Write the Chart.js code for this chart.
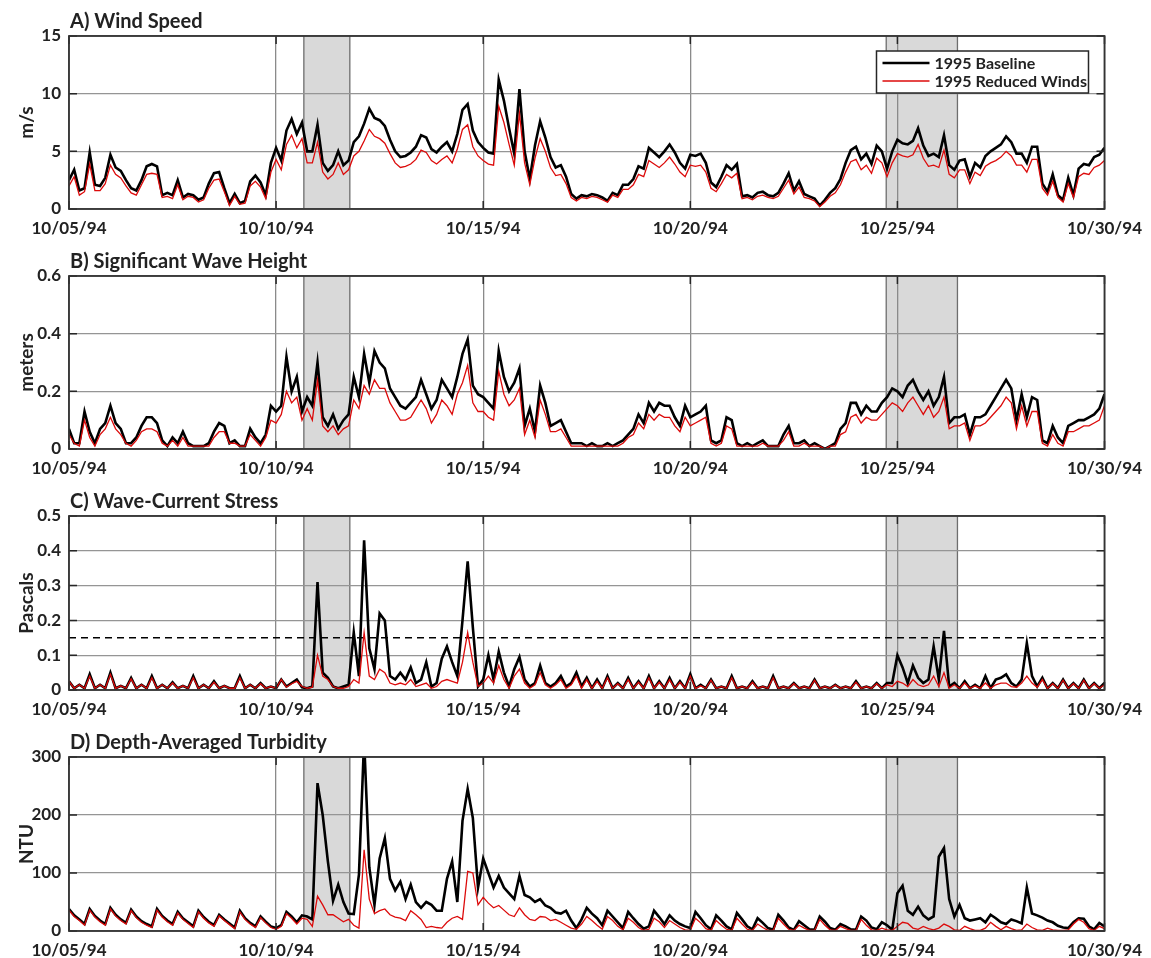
<!DOCTYPE html>
<html>
<head>
<meta charset="utf-8">
<title>1995 Baseline vs Reduced Winds</title>
<script src="https://cdn.jsdelivr.net/npm/chart.js@4.4.1/dist/chart.umd.min.js"></script>
<style>
  html, body { margin: 0; padding: 0; background: #fff; overflow: hidden; }
  canvas { position: absolute; left: 0; }
</style>
</head>
<body>
<canvas id="windChart" width="1151" height="240" style="top:0px"></canvas>
<canvas id="waveChart" width="1151" height="240" style="top:240px"></canvas>
<canvas id="stressChart" width="1151" height="240" style="top:480px"></canvas>
<canvas id="turbChart" width="1151" height="240" style="top:721px"></canvas>
<script>
// time axis: days since 10/05/94, one sample every 3 hours
const stepDays = 0.125;
const tickDays = [0, 5, 10, 15, 20, 25];
const dateLabels = ['10/05/94', '10/10/94', '10/15/94', '10/20/94', '10/25/94', '10/30/94'];
const shadedSpans = [[5.67, 6.78], [19.73, 21.45]];
const stressThreshold = 0.15;

// A) wind speed, m/s
const windBaseline = [
  2.5, 3.4, 1.6, 1.8, 4.9, 2.1, 2.0, 2.7,
  4.7, 3.6, 3.3, 2.5, 1.8, 1.6, 2.5, 3.7,
  3.9, 3.7, 1.2, 1.4, 1.2, 2.5, 1.0, 1.3,
  1.2, 0.8, 1.0, 2.2, 3.1, 3.2, 1.8, 0.5,
  1.3, 0.5, 0.7, 2.4, 2.9, 2.3, 1.2, 4.0,
  5.3, 4.2, 6.8, 7.8, 6.5, 7.5, 5.0, 5.0,
  7.3, 4.0, 3.3, 3.8, 5.0, 3.8, 4.2, 5.8,
  6.3, 7.4, 8.7, 7.9, 7.7, 7.2, 6.0, 5.0,
  4.5, 4.6, 4.9, 5.4, 6.4, 6.2, 5.2, 4.9,
  5.4, 5.8, 5.0, 6.5, 8.6, 9.1, 6.8, 5.8,
  5.3, 4.9, 4.8, 11.2, 9.4, 7.0, 4.8, 10.4,
  5.0, 2.6, 5.5, 7.6, 6.2, 4.5, 3.6, 3.8,
  2.8, 1.3, 0.9, 1.2, 1.1, 1.3, 1.2, 1.0,
  0.7, 1.4, 1.2, 2.1, 2.1, 2.6, 3.7, 3.5,
  5.3, 4.9, 4.5, 5.0, 5.6, 4.9, 4.0, 3.5,
  4.7, 4.6, 4.8, 4.0, 2.3, 1.9, 2.8, 3.8,
  3.4, 3.9, 1.1, 1.2, 1.0, 1.4, 1.5, 1.2,
  1.1, 1.4, 2.2, 3.1, 1.6, 2.4, 1.3, 1.1,
  0.9, 0.3, 0.8, 1.4, 1.8, 2.6, 4.0, 5.1,
  5.4, 4.3, 4.8, 3.9, 5.5, 5.0, 3.5, 5.0,
  6.0, 5.7, 5.6, 5.9, 7.0, 5.5, 4.6, 4.8,
  4.5, 6.4, 3.8, 3.4, 4.2, 4.3, 2.8, 4.0,
  3.6, 4.6, 5.0, 5.3, 5.6, 6.3, 5.8, 4.8,
  4.8, 4.0, 5.4, 5.4, 2.2, 1.5, 3.0, 1.2,
  0.8, 2.7, 1.2, 3.5, 3.9, 3.8, 4.5, 4.7,
  5.3
];
const windReduced = [
  2.0, 2.8, 1.2, 1.5, 3.9, 1.6, 1.6, 2.2,
  3.8, 3.0, 2.7, 2.0, 1.4, 1.2, 2.1, 3.0,
  3.1, 3.0, 1.0, 1.1, 0.9, 2.1, 0.8, 1.1,
  1.0, 0.6, 0.8, 1.8, 2.5, 2.6, 1.5, 0.3,
  1.1, 0.4, 0.5, 2.0, 2.4, 1.9, 0.9, 3.2,
  4.3, 3.4, 5.6, 6.4, 5.3, 6.1, 4.0, 4.0,
  5.8, 3.2, 2.6, 3.0, 4.0, 3.0, 3.4, 4.6,
  5.0, 5.9, 6.9, 6.3, 6.1, 5.7, 4.8, 4.0,
  3.6, 3.7, 3.9, 4.3, 5.1, 4.9, 4.2, 3.9,
  4.3, 4.6, 4.0, 5.2, 6.9, 7.3, 5.4, 4.6,
  4.2, 3.9, 3.8, 8.9, 7.5, 5.6, 3.8, 8.3,
  4.0, 2.1, 4.4, 6.1, 5.0, 3.6, 2.9, 3.0,
  2.2, 1.0, 0.7, 1.0, 0.9, 1.1, 1.0, 0.8,
  0.6, 1.2, 1.0, 1.7, 1.7, 2.1, 3.0, 2.8,
  4.2, 3.9, 3.6, 4.0, 4.5, 3.9, 3.2, 2.8,
  3.8, 3.7, 3.8, 3.2, 1.8, 1.5, 2.2, 3.0,
  2.7, 3.1, 0.9, 1.0, 0.8, 1.1, 1.2, 1.0,
  0.9, 1.1, 1.8, 2.5, 1.3, 1.9, 1.0, 0.9,
  0.7, 0.2, 0.6, 1.1, 1.4, 2.1, 3.2, 4.1,
  4.3, 3.4, 3.8, 3.1, 4.4, 4.0, 2.8, 4.0,
  4.8, 4.6, 4.5, 4.7, 5.6, 4.4, 3.7, 3.8,
  3.6, 5.1, 3.0, 2.7, 3.4, 3.4, 2.2, 3.2,
  2.9, 3.7, 4.0, 4.2, 4.5, 5.0, 4.6, 3.8,
  3.8, 3.2, 4.3, 4.3, 1.8, 1.2, 2.4, 1.0,
  0.6, 2.2, 1.0, 2.8, 3.1, 3.0, 3.6, 3.8,
  4.2
];

// B) significant wave height, meters
const waveBaseline = [
  0.07, 0.02, 0.02, 0.13, 0.06, 0.02, 0.07, 0.09,
  0.15, 0.09, 0.07, 0.02, 0.02, 0.04, 0.08, 0.11,
  0.11, 0.09, 0.03, 0.01, 0.04, 0.02, 0.06, 0.02,
  0.01, 0.01, 0.01, 0.02, 0.06, 0.09, 0.08, 0.02,
  0.03, 0.01, 0.01, 0.07, 0.04, 0.02, 0.05, 0.15,
  0.13, 0.15, 0.32, 0.20, 0.25, 0.13, 0.18, 0.15,
  0.30, 0.11, 0.08, 0.12, 0.07, 0.10, 0.12, 0.25,
  0.18, 0.33, 0.23, 0.34, 0.30, 0.28, 0.21, 0.18,
  0.15, 0.14, 0.16, 0.18, 0.24, 0.19, 0.14, 0.17,
  0.24, 0.21, 0.18, 0.25, 0.33, 0.38, 0.22, 0.19,
  0.18, 0.16, 0.14, 0.34, 0.25, 0.20, 0.23, 0.28,
  0.08, 0.14, 0.06, 0.22, 0.16, 0.08, 0.09, 0.10,
  0.06, 0.02, 0.02, 0.02, 0.01, 0.02, 0.01, 0.01,
  0.02, 0.01, 0.02, 0.03, 0.05, 0.07, 0.12, 0.09,
  0.16, 0.13, 0.16, 0.15, 0.15, 0.11, 0.08, 0.15,
  0.11, 0.12, 0.13, 0.15, 0.03, 0.02, 0.03, 0.11,
  0.10, 0.02, 0.01, 0.02, 0.01, 0.02, 0.03, 0.01,
  0.01, 0.01, 0.05, 0.08, 0.02, 0.02, 0.03, 0.01,
  0.02, 0.01, 0.00, 0.01, 0.02, 0.07, 0.09, 0.16,
  0.16, 0.12, 0.15, 0.13, 0.13, 0.16, 0.18, 0.21,
  0.20, 0.18, 0.22, 0.24, 0.20, 0.17, 0.20, 0.15,
  0.18, 0.25, 0.09, 0.11, 0.11, 0.12, 0.05, 0.11,
  0.11, 0.12, 0.15, 0.18, 0.21, 0.24, 0.21, 0.10,
  0.19, 0.11, 0.18, 0.17, 0.03, 0.02, 0.08, 0.04,
  0.02, 0.08, 0.09, 0.10, 0.10, 0.11, 0.12, 0.14,
  0.19
];
const waveReduced = [
  0.05, 0.02, 0.01, 0.10, 0.04, 0.01, 0.05, 0.07,
  0.11, 0.07, 0.05, 0.02, 0.01, 0.03, 0.06, 0.07,
  0.07, 0.06, 0.02, 0.01, 0.03, 0.01, 0.04, 0.01,
  0.01, 0.01, 0.01, 0.01, 0.04, 0.06, 0.06, 0.02,
  0.02, 0.01, 0.01, 0.05, 0.03, 0.01, 0.04, 0.10,
  0.09, 0.12, 0.20, 0.16, 0.18, 0.10, 0.14, 0.10,
  0.24, 0.08, 0.06, 0.08, 0.05, 0.07, 0.08, 0.17,
  0.14, 0.22, 0.19, 0.24, 0.21, 0.21, 0.16, 0.13,
  0.10, 0.10, 0.11, 0.14, 0.17, 0.14, 0.09, 0.12,
  0.17, 0.15, 0.12, 0.19, 0.23, 0.29, 0.16, 0.13,
  0.13, 0.11, 0.10, 0.27, 0.19, 0.15, 0.17, 0.21,
  0.05, 0.10, 0.04, 0.17, 0.12, 0.06, 0.06, 0.07,
  0.04, 0.01, 0.01, 0.01, 0.01, 0.01, 0.01, 0.01,
  0.01, 0.01, 0.01, 0.02, 0.04, 0.05, 0.09, 0.07,
  0.12, 0.10, 0.12, 0.11, 0.11, 0.08, 0.06, 0.11,
  0.08, 0.09, 0.10, 0.11, 0.02, 0.01, 0.02, 0.08,
  0.07, 0.01, 0.01, 0.01, 0.01, 0.01, 0.02, 0.01,
  0.01, 0.01, 0.03, 0.06, 0.01, 0.01, 0.02, 0.01,
  0.01, 0.01, 0.00, 0.01, 0.01, 0.05, 0.06, 0.11,
  0.12, 0.09, 0.11, 0.10, 0.10, 0.12, 0.14, 0.16,
  0.15, 0.13, 0.16, 0.18, 0.15, 0.12, 0.15, 0.11,
  0.13, 0.18, 0.07, 0.08, 0.08, 0.09, 0.03, 0.08,
  0.08, 0.09, 0.11, 0.13, 0.15, 0.18, 0.16, 0.07,
  0.15, 0.08, 0.13, 0.13, 0.02, 0.01, 0.05, 0.02,
  0.01, 0.06, 0.06, 0.07, 0.08, 0.08, 0.09, 0.10,
  0.15
];

// C) wave-current bottom stress, Pascals
const stressBaseline = [
  0.025, 0.005, 0.015, 0.005, 0.045, 0.005, 0.015, 0.005,
  0.05, 0.005, 0.012, 0.005, 0.035, 0.005, 0.015, 0.005,
  0.04, 0.005, 0.015, 0.005, 0.022, 0.005, 0.012, 0.005,
  0.04, 0.005, 0.015, 0.005, 0.025, 0.005, 0.012, 0.005,
  0.005, 0.04, 0.005, 0.015, 0.005, 0.02, 0.005, 0.01,
  0.005, 0.03, 0.01, 0.02, 0.03, 0.008, 0.005, 0.01,
  0.31, 0.05, 0.035, 0.01, 0.005, 0.01, 0.015, 0.165,
  0.04, 0.43, 0.12, 0.06, 0.22, 0.2, 0.04, 0.03,
  0.05, 0.03, 0.065, 0.02, 0.03, 0.08, 0.01, 0.02,
  0.09, 0.125, 0.08, 0.04, 0.2, 0.37, 0.18, 0.01,
  0.03, 0.10, 0.03, 0.11, 0.05, 0.01, 0.06, 0.095,
  0.03, 0.01, 0.02, 0.07, 0.02, 0.01, 0.02, 0.04,
  0.01, 0.02, 0.05, 0.01, 0.035, 0.005, 0.03, 0.005,
  0.04, 0.005, 0.02, 0.005, 0.035, 0.005, 0.025, 0.005,
  0.04, 0.005, 0.025, 0.005, 0.035, 0.005, 0.025, 0.005,
  0.045, 0.005, 0.015, 0.005, 0.03, 0.005, 0.01, 0.005,
  0.04, 0.005, 0.01, 0.005, 0.025, 0.005, 0.01, 0.005,
  0.04, 0.005, 0.01, 0.005, 0.02, 0.005, 0.01, 0.005,
  0.03, 0.005, 0.01, 0.005, 0.015, 0.005, 0.01, 0.005,
  0.025, 0.005, 0.01, 0.005, 0.02, 0.005, 0.02, 0.02,
  0.10, 0.065, 0.02, 0.07, 0.035, 0.02, 0.03, 0.125,
  0.03, 0.17, 0.01, 0.02, 0.005, 0.025, 0.005, 0.015,
  0.005, 0.04, 0.005, 0.03, 0.035, 0.045, 0.02, 0.01,
  0.03, 0.135, 0.04, 0.01, 0.035, 0.005, 0.02, 0.005,
  0.03, 0.005, 0.02, 0.005, 0.03, 0.005, 0.02, 0.005,
  0.02
];
const stressReduced = [
  0.025, 0.005, 0.015, 0.005, 0.04, 0.005, 0.015, 0.005,
  0.045, 0.005, 0.012, 0.005, 0.032, 0.005, 0.015, 0.005,
  0.035, 0.005, 0.015, 0.005, 0.02, 0.005, 0.012, 0.005,
  0.035, 0.005, 0.015, 0.005, 0.022, 0.005, 0.012, 0.005,
  0.005, 0.035, 0.005, 0.015, 0.005, 0.018, 0.005, 0.01,
  0.005, 0.03, 0.008, 0.018, 0.025, 0.01, 0.005, 0.008,
  0.10, 0.04, 0.03, 0.01, 0.005, 0.005, 0.01, 0.03,
  0.02, 0.165, 0.04, 0.03, 0.06, 0.05, 0.02, 0.015,
  0.02, 0.015, 0.03, 0.01, 0.015, 0.02, 0.005, 0.01,
  0.025, 0.03, 0.025, 0.02, 0.08, 0.165, 0.08, 0.01,
  0.02, 0.04, 0.02, 0.07, 0.03, 0.005, 0.04, 0.06,
  0.02, 0.005, 0.015, 0.05, 0.015, 0.005, 0.015, 0.03,
  0.005, 0.015, 0.04, 0.005, 0.03, 0.005, 0.025, 0.005,
  0.035, 0.005, 0.018, 0.005, 0.03, 0.005, 0.022, 0.005,
  0.035, 0.005, 0.022, 0.005, 0.03, 0.005, 0.022, 0.005,
  0.04, 0.005, 0.012, 0.005, 0.028, 0.005, 0.01, 0.005,
  0.035, 0.005, 0.01, 0.005, 0.022, 0.005, 0.01, 0.005,
  0.035, 0.005, 0.01, 0.005, 0.018, 0.005, 0.01, 0.005,
  0.028, 0.005, 0.01, 0.005, 0.014, 0.005, 0.01, 0.005,
  0.022, 0.005, 0.01, 0.005, 0.018, 0.005, 0.015, 0.01,
  0.025, 0.02, 0.01, 0.03, 0.015, 0.01, 0.015, 0.04,
  0.01, 0.05, 0.005, 0.015, 0.005, 0.02, 0.005, 0.012,
  0.005, 0.02, 0.005, 0.015, 0.02, 0.02, 0.01, 0.008,
  0.02, 0.04, 0.02, 0.008, 0.03, 0.005, 0.018, 0.005,
  0.028, 0.005, 0.018, 0.005, 0.028, 0.005, 0.018, 0.005,
  0.015
];

// D) depth-averaged turbidity, NTU
const turbBaseline = [
  38, 27, 20, 12, 38, 26, 18, 12,
  40, 28, 20, 14, 37, 25, 17, 12,
  8, 38, 26, 18, 12, 33, 22, 15,
  8, 35, 24, 16, 10, 28, 20, 13,
  6, 35, 22, 14, 8, 25, 16, 8,
  5, 10, 33, 25, 15, 27, 25, 20,
  255, 200, 120, 52, 80, 50, 30, 29,
  97, 330, 110, 45, 125, 160, 90, 70,
  85, 55, 80, 50, 40, 50, 45, 35,
  35, 90, 120, 50, 190, 245, 195, 75,
  125, 100, 75, 95, 75, 65, 55, 95,
  62, 58, 50, 55, 44, 40, 32, 30,
  35, 18, 5, 20, 40, 30, 22, 10,
  35, 25, 15, 5, 33, 22, 12, 4,
  8, 35, 24, 12, 27, 18, 12, 8,
  5, 33, 22, 10, 3, 27, 18, 8,
  3, 31, 20, 8, 3, 22, 14, 5,
  2, 28, 18, 6, 2, 17, 10, 3,
  2, 25, 16, 5, 2, 12, 8, 3,
  2, 25, 18, 6, 3, 15, 10, 2,
  65, 78, 35, 28, 42, 27, 20, 25,
  128, 143, 55, 25, 45, 22, 18, 20,
  22, 15, 28, 22, 15, 12, 20, 17,
  13, 75, 30, 27, 23, 18, 15, 9,
  6, 5, 15, 22, 21, 8, 3, 14,
  8
];
const turbReduced = [
  36, 25, 18, 10, 36, 24, 16, 10,
  38, 26, 18, 12, 35, 23, 15, 10,
  6, 36, 24, 16, 10, 31, 20, 13,
  6, 33, 22, 14, 8, 26, 18, 11,
  4, 33, 20, 12, 6, 23, 14, 6,
  3, 8, 30, 22, 12, 22, 20, 8,
  60, 45, 28, 28, 22, 16, 20, 10,
  5, 140, 55, 30, 35, 38, 28, 24,
  22, 18, 35, 28, 20, 6, 8, 6,
  5, 15, 22, 25, 20, 103, 100, 45,
  58, 48, 40, 44, 36, 28, 25, 40,
  28, 20, 18, 25, 24, 18, 20, 15,
  10, 5, 3, 12, 25, 18, 10, 3,
  25, 18, 8, 2, 22, 15, 6, 1,
  3, 22, 16, 6, 18, 12, 6, 2,
  1, 22, 14, 4, 1, 18, 10, 3,
  1, 22, 12, 3, 1, 12, 6, 1,
  1, 22, 12, 3, 1, 10, 5, 1,
  1, 20, 10, 2, 1, 8, 4, 1,
  1, 20, 10, 2, 1, 5, 2, 1,
  8, 15, 13, 5, 3, 8, 4, 2,
  5, 12, 8, 2, 1, 8, 4, 1,
  1, 5, 15, 8, 2, 8, 4, 1,
  2, 12, 6, 2, 1, 5, 2, 1,
  1, 2, 12, 20, 15, 4, 1, 8,
  4
];

const seriesNames = ['1995 Baseline', '1995 Reduced Winds'];
const BLACK = '#000000';
const RED = '#dc0a0a';
const TEXT = '#222222';
const FONT = 'Lato, "Open Sans", sans-serif';

Chart.defaults.font.family = FONT;
Chart.defaults.color = TEXT;

const toPoints = arr => arr.map((v, i) => ({ x: i * stepDays, y: v }));

// grey event windows under the grid
const shadePlugin = {
  id: 'shade',
  beforeDraw(chart) {
    const { ctx, chartArea: a, scales: { x } } = chart;
    ctx.save();
    shadedSpans.forEach(([s, e]) => {
      const x0 = x.getPixelForValue(s);
      const x1 = x.getPixelForValue(e);
      ctx.fillStyle = '#d9d9d9';
      ctx.fillRect(x0, a.top, x1 - x0, a.bottom - a.top);
      ctx.strokeStyle = '#6e6e6e';
      ctx.lineWidth = 1.3;
      ctx.beginPath();
      ctx.moveTo(x0, a.top); ctx.lineTo(x0, a.bottom);
      ctx.moveTo(x1, a.top); ctx.lineTo(x1, a.bottom);
      ctx.stroke();
    });
    ctx.restore();
  }
};

// box around the axes, inward ticks and the panel title
const framePlugin = {
  id: 'frame',
  afterDraw(chart, args, opts) {
    const { ctx, chartArea: a, scales: { x, y } } = chart;
    ctx.save();
    ctx.strokeStyle = '#262626';
    ctx.lineWidth = 1.5;
    ctx.beginPath();
    y.ticks.forEach(t => {
      const py = y.getPixelForValue(t.value);
      ctx.moveTo(a.left, py); ctx.lineTo(a.left + 8, py);
      ctx.moveTo(a.right, py); ctx.lineTo(a.right - 8, py);
    });
    x.ticks.forEach(t => {
      const px = x.getPixelForValue(t.value);
      ctx.moveTo(px, a.bottom); ctx.lineTo(px, a.bottom - 8);
      ctx.moveTo(px, a.top); ctx.lineTo(px, a.top + 8);
    });
    ctx.stroke();
    ctx.lineWidth = 1.8;
    ctx.strokeStyle = '#333333';
    ctx.strokeRect(a.left, a.top, a.right - a.left, a.bottom - a.top);
    ctx.fillStyle = TEXT;
    ctx.font = 'bold 20px ' + FONT;
    ctx.textAlign = 'left';
    ctx.textBaseline = 'alphabetic';
    ctx.fillText(opts.text, a.left + 1, a.top - 8);
    ctx.restore();
  }
};

// boxed legend in the top right of the wind panel
const boxLegend = {
  id: 'boxLegend',
  afterDraw(chart) {
    const { ctx, chartArea: a } = chart;
    const items = chart.data.datasets.filter(d => seriesNames.includes(d.label))
      .sort((p, q) => seriesNames.indexOf(p.label) - seriesNames.indexOf(q.label));
    const w = 212, h = 42;
    const left = a.right - 228, top = a.top + 15;
    ctx.save();
    ctx.fillStyle = '#fff';
    ctx.fillRect(left, top, w, h);
    ctx.strokeStyle = '#262626';
    ctx.lineWidth = 1.5;
    ctx.strokeRect(left, top, w, h);
    ctx.font = 'bold 16px ' + FONT;
    ctx.textBaseline = 'middle';
    items.forEach((d, i) => {
      const yy = top + 12 + i * 18;
      ctx.strokeStyle = d.borderColor;
      ctx.lineWidth = d.borderWidth;
      ctx.beginPath();
      ctx.moveTo(left + 6, yy); ctx.lineTo(left + 53, yy);
      ctx.stroke();
      ctx.fillStyle = TEXT;
      ctx.fillText(d.label, left + 58, yy + 1);
    });
    ctx.restore();
  }
};

function makePanel(id, cfg) {
  const datasets = [
    { label: seriesNames[0], data: toPoints(cfg.baseline), borderColor: BLACK, borderWidth: 2.6, order: 1 },
    { label: seriesNames[1], data: toPoints(cfg.reduced), borderColor: RED, borderWidth: 1.3, order: 0 }
  ];
  if (cfg.threshold !== undefined) {
    datasets.push({
      label: 'threshold',
      data: [{ x: tickDays[0], y: cfg.threshold }, { x: tickDays[tickDays.length - 1], y: cfg.threshold }],
      borderColor: BLACK, borderWidth: 1.5, borderDash: [7, 5], order: 2
    });
  }
  const axisH = 240 - 36 - cfg.plotH;
  new Chart(document.getElementById(id), {
    type: 'line',
    data: { datasets },
    plugins: cfg.legend ? [shadePlugin, framePlugin, boxLegend] : [shadePlugin, framePlugin],
    options: {
      responsive: false,
      animation: false,
      layout: { padding: { top: 36, right: 41, bottom: 0, left: 0 } },
      elements: { point: { radius: 0 }, line: { tension: 0 } },
      plugins: {
        legend: { display: false },
        tooltip: { enabled: false },
        frame: { text: cfg.title }
      },
      scales: {
        x: {
          type: 'linear',
          min: tickDays[0],
          max: tickDays[tickDays.length - 1],
          afterFit: s => { s.height = axisH; },
          grid: { color: '#8a8a8a', lineWidth: 1.3, drawTicks: false },
          border: { display: false },
          ticks: {
            stepSize: 5, autoSkip: false, maxRotation: 0, padding: 9,
            font: { size: 17, weight: 'bold' },
            callback: v => dateLabels[tickDays.indexOf(v)] ?? ''
          }
        },
        y: {
          min: cfg.yMin, max: cfg.yMax,
          afterFit: s => { s.width = 69; },
          grid: { color: '#959595', lineWidth: 1.3, drawTicks: false },
          border: { display: false },
          ticks: { stepSize: cfg.yStep, padding: 8, font: { size: 17, weight: 'bold' } },
          title: { display: true, text: cfg.yTitle, font: { size: 19, weight: 'bold' }, padding: { top: 15, bottom: 0 } }
        }
      }
    }
  });
}

makePanel('windChart', { title: 'A) Wind Speed', yTitle: 'm/s', baseline: windBaseline, reduced: windReduced,
  yMin: 0, yMax: 15, yStep: 5, plotH: 173, legend: true });
makePanel('waveChart', { title: 'B) Significant Wave Height', yTitle: 'meters', baseline: waveBaseline, reduced: waveReduced,
  yMin: 0, yMax: 0.6, yStep: 0.2, plotH: 173 });
makePanel('stressChart', { title: 'C) Wave-Current Stress', yTitle: 'Pascals', baseline: stressBaseline, reduced: stressReduced,
  yMin: 0, yMax: 0.5, yStep: 0.1, plotH: 174, threshold: stressThreshold });
makePanel('turbChart', { title: 'D) Depth-Averaged Turbidity', yTitle: 'NTU', baseline: turbBaseline, reduced: turbReduced,
  yMin: 0, yMax: 300, yStep: 100, plotH: 174 });
</script>
</body>
</html>
